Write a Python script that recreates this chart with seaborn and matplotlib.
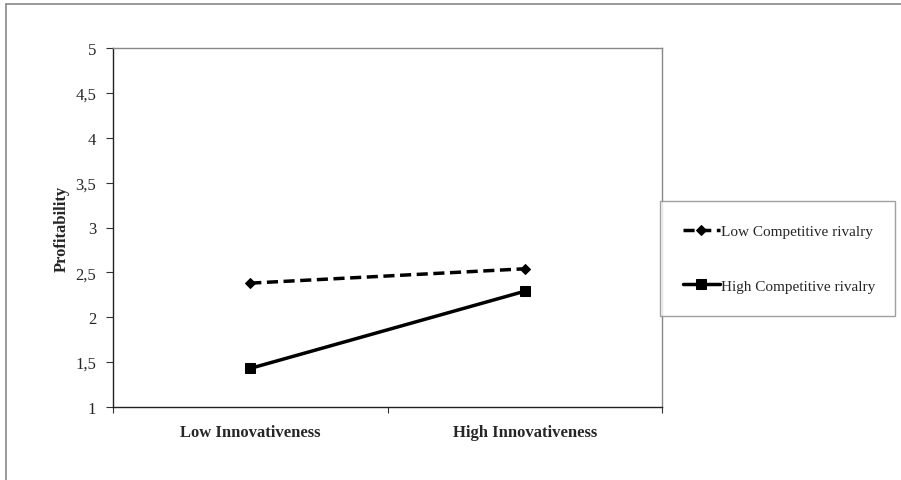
import matplotlib.pyplot as plt
import seaborn as sns
from matplotlib.lines import Line2D
from matplotlib.ticker import FixedLocator, FuncFormatter
from pandas import DataFrame

categories = ["Low Innovativeness", "High Innovativeness"]
series_names = ["Low Competitive rivalry", "High Competitive rivalry"]
low_rivalry = [2.38, 2.54]
high_rivalry = [1.43, 2.29]
y_ticks = [1, 1.5, 2, 2.5, 3, 3.5, 4, 4.5, 5]

df = DataFrame({
    "x": list(range(len(categories))) * 2,
    "Profitability": low_rivalry + high_rivalry,
    "series": [series_names[0]] * 2 + [series_names[1]] * 2,
})

sns.set_style("white")
plt.rcParams["font.family"] = ["Liberation Serif", "DejaVu Serif"]

fig = plt.figure(figsize=(9.01, 4.81), dpi=100)
ax = fig.add_axes([113 / 901, 1 - 408 / 481, (662 - 113) / 901, (408 - 49) / 481])

styles = {
    series_names[0]: dict(ls=(0, (3.2, 1.6)), marker="D", ms=5.5),
    series_names[1]: dict(ls="-", marker="s", ms=7),
}
for name in series_names:
    sub = df[df["series"] == name]
    st = styles[name]
    sns.lineplot(data=sub, x="x", y="Profitability", ax=ax, color="black",
                 linewidth=2.5, linestyle=st["ls"], marker=st["marker"],
                 markersize=st["ms"], markeredgecolor="black", label=name)

ax.set_xlim(-0.5, 1.5)
ax.set_ylim(1, 5)
ax.set_yticks(y_ticks)
ax.yaxis.set_major_formatter(FuncFormatter(lambda v, p: f"{v:g}".replace(".", ",")))
ax.set_xticks(range(len(categories)))
ax.set_xticklabels(categories, fontweight="bold", fontsize=12)
ax.xaxis.set_minor_locator(FixedLocator([-0.5, 0.5, 1.5]))
ax.tick_params(axis="x", which="major", length=0, pad=12)
ax.tick_params(axis="x", which="minor", bottom=True, length=4, width=0.8,
               color="#333333", direction="out")
ax.tick_params(axis="y", left=True, length=5, width=0.8, color="#333333",
               direction="out", labelsize=12, pad=7)
ax.set_xlabel("")
ax.set_ylabel("Profitability", fontweight="bold", fontsize=12, labelpad=4)

for side in ["left", "bottom"]:
    ax.spines[side].set_color("#222222")
    ax.spines[side].set_linewidth(1.0)
for side in ["top", "right"]:
    ax.spines[side].set_color("#888888")
    ax.spines[side].set_linewidth(1.0)

leg = ax.legend(loc="center", bbox_to_anchor=(660 / 901, 1 - 316 / 481, 235 / 901, 113 / 481),
                bbox_transform=fig.transFigure, frameon=True, fancybox=False,
                handlelength=2.4, handletextpad=0.1, labelspacing=2.7,
                fontsize=11, borderpad=1.5, borderaxespad=0, mode="expand")
leg.get_frame().set_edgecolor("#888888")
leg.get_frame().set_linewidth(1.0)

# outer chart frame (top and left edges visible)
fig.add_artist(Line2D([6 / 901, 1], [1 - 5 / 481, 1 - 5 / 481], transform=fig.transFigure,
                      color="#888888", lw=1.2))
fig.add_artist(Line2D([6 / 901, 6 / 901], [0, 1 - 5 / 481], transform=fig.transFigure,
                      color="#888888", lw=1.2))

fig.savefig("out.png", dpi=100)
